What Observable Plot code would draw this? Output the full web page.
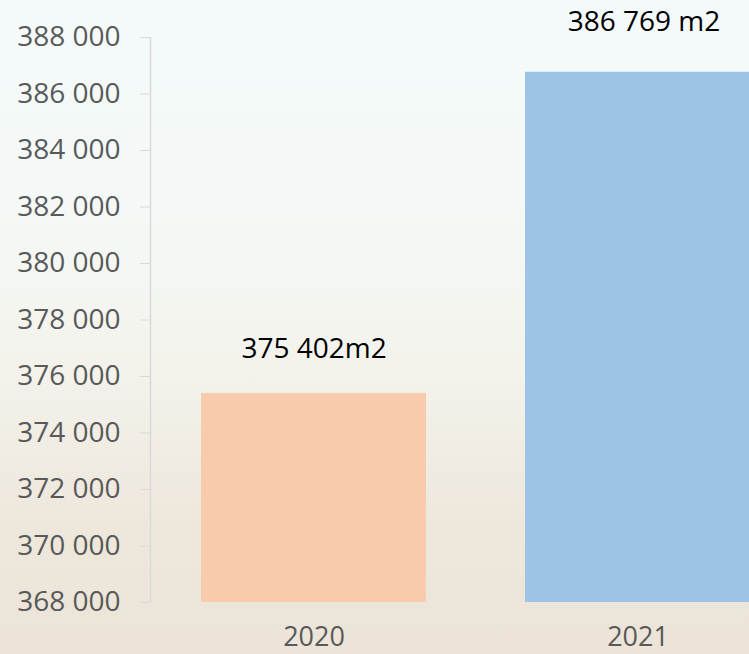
<!DOCTYPE html>
<html>
<head>
<meta charset="utf-8">
<script src="https://cdn.jsdelivr.net/npm/d3@7"></script>
<script src="https://cdn.jsdelivr.net/npm/@observablehq/plot@0.6"></script>
<style>
  html, body { margin: 0; padding: 0; overflow: hidden; }
  body {
    width: 749px; height: 654px;
    background: linear-gradient(to bottom, #f4f9fa 0%, #f4f9f7 30%, #f3f3ec 55%, #eee7dc 80%, #ece4d8 100%);
  }
</style>
</head>
<body>
<div id="chart"></div>
<script>
const years = ["2020", "2021"];
const areas = [375402, 386769];
const valueLabels = ["375 402m2", "386 769 m2"];
const yTicks = [368000, 370000, 372000, 374000, 376000, 378000, 380000, 382000, 384000, 386000, 388000];
const barColors = ["#f8cbad", "#9dc3e6"];

const data = years.map((y, i) => ({year: y, area: areas[i], label: valueLabels[i]}));
const yMin = yTicks[0];
const yMax = yTicks[yTicks.length - 1];
const fmt = d => d3.format(",")(d).replace(/,/g, " ");

const chart = Plot.plot({
  width: 749,
  height: 654,
  marginTop: 37,
  marginBottom: 52,
  marginLeft: 150,
  marginRight: 0,
  style: {background: "transparent", fontFamily: "'Open Sans', sans-serif", overflow: "hidden"},
  x: {domain: years, range: [101, 850], padding: 0.305, align: 0.5, label: null, axis: null},
  y: {domain: [yMin, yMax], label: null, axis: null},
  color: {domain: years, range: barColors},
  marks: [
    Plot.barY(data, {x: "year", y1: yMin, y2: "area", fill: "year"}),
    Plot.axisY(yTicks, {tickSize: 10, tickPadding: 20, fontSize: 28, fill: "#595959", stroke: "#d9d9d9", tickFormat: fmt, label: null}),
    Plot.axisX({tickSize: 0, tickPadding: 24, fontSize: 27, fill: "#595959", label: null}),
    Plot.text(data.filter(d => d.year === years[0]), {x: "year", y: "area", text: "label", dy: -44, fontSize: 28, fill: "#000"}),
    Plot.text(data.filter(d => d.year === years[1]), {x: "year", y: "area", text: "label", dy: -50, dx: 6, fontSize: 28, fill: "#000"})
  ]
});

const ys = chart.scale("y");
d3.select(chart).append("line")
  .attr("x1", 150.5).attr("x2", 150.5)
  .attr("y1", ys.apply(yMax)).attr("y2", ys.apply(yMin))
  .attr("stroke", "#d9d9d9").attr("stroke-width", 1.5);

document.getElementById("chart").appendChild(chart);
</script>
</body>
</html>
